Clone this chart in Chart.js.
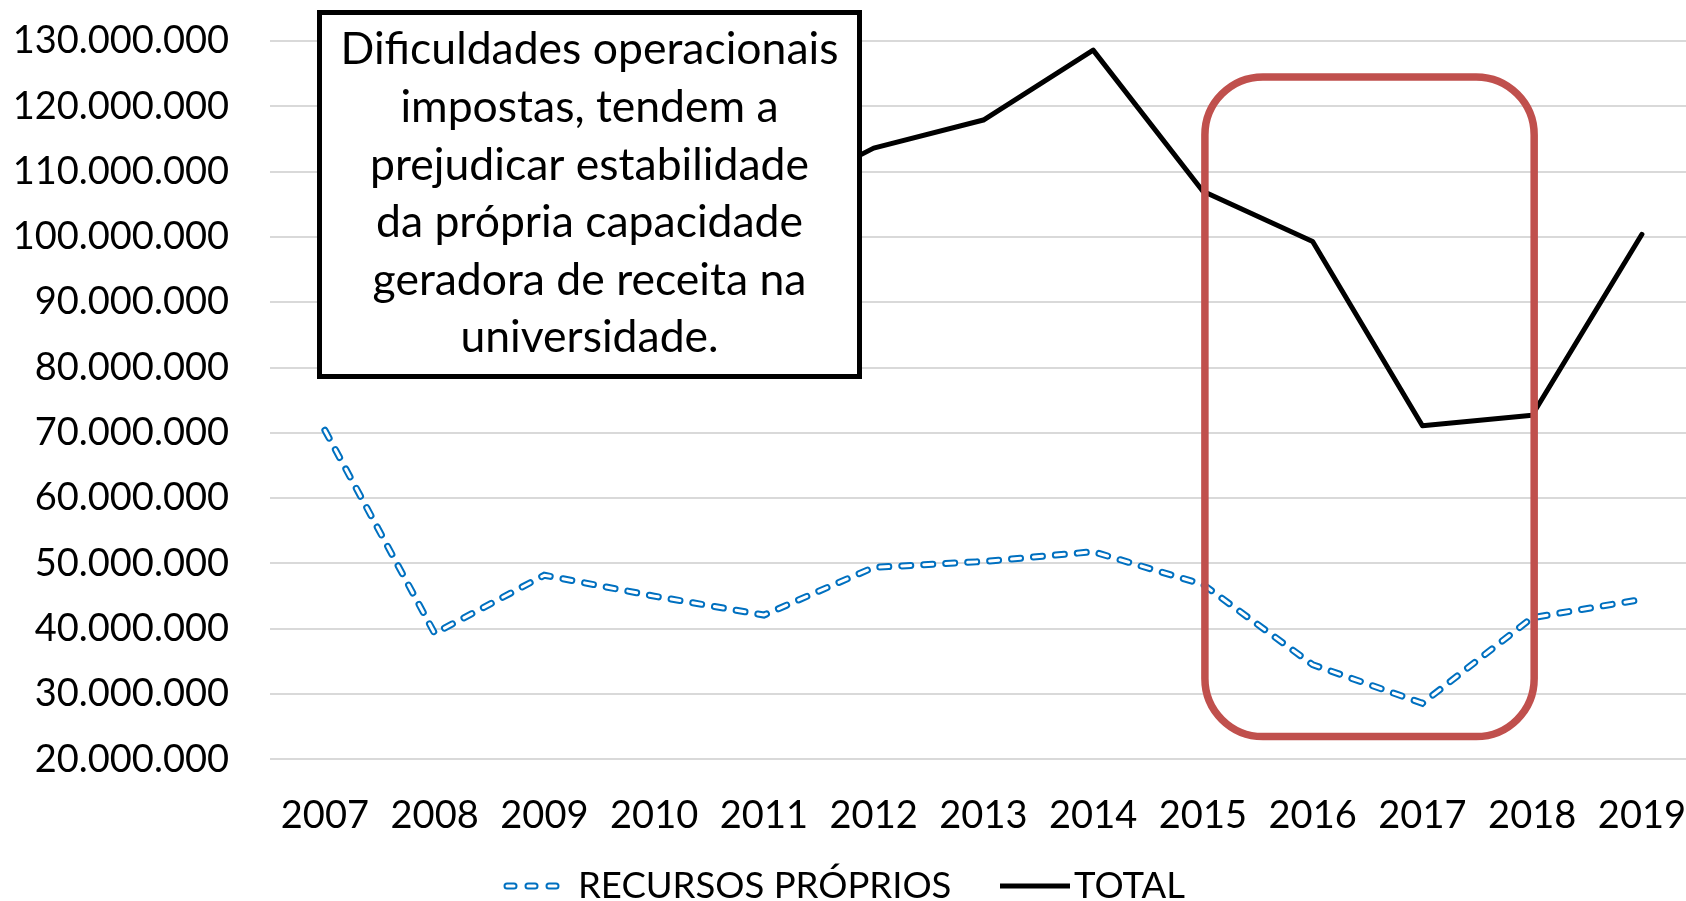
<!DOCTYPE html>
<html>
<head>
<meta charset="utf-8">
<script src="https://cdn.jsdelivr.net/npm/chart.js@4.4.1/dist/chart.umd.min.js"></script>
<style>
  html, body { margin: 0; padding: 0; background: #fff; overflow: hidden; }
  #wrap { position: absolute; left: 0; top: 0; width: 1720px; height: 901px; }
</style>
</head>
<body>
<div id="wrap"><canvas id="grafico" width="1720" height="901"></canvas></div>
<script>
const anos = ['2007', '2008', '2009', '2010', '2011', '2012', '2013', '2014', '2015', '2016', '2017', '2018', '2019'];
const recursosProprios = [70400000, 39300000, 48200000, 45000000, 42100000, 49400000, 50300000, 51800000, 46800000, 34500000, 28600000, 41700000, 44500000];
// 2007-2011 do total ficam escondidos atras da caixa de texto
const total = [100000000, 85000000, 98000000, 96000000, 105000000, 113600000, 117900000, 128600000, 107000000, 99300000, 71100000, 72700000, 100400000];
const eixoY = { min: 20000000, max: 130000000, passo: 10000000 };
const textoCaixa = ['Dificuldades operacionais', 'impostas, tendem a', 'prejudicar estabilidade', 'da própria capacidade', 'geradora de receita na', 'universidade.'];
const destaque = { de: '2015', ate: '2018', topo: 124500000, base: 23500000 };

const fonte = 'Lato, "Open Sans", sans-serif';
const azul = '#0070C0';
const tracoAzul = [9, 13];

function formatar(v) {
    return String(Math.round(v)).replace(/\B(?=(\d{3})+(?!\d))/g, '.');
}

const anotacoes = {
    id: 'anotacoes',
    afterDatasetsDraw(chart) {
        const ctx = chart.ctx;
        const x = chart.scales.x;
        const y = chart.scales.y;

        // retangulo vermelho arredondado
        const x1 = x.getPixelForValue(anos.indexOf(destaque.de)) + 2;
        const x2 = x.getPixelForValue(anos.indexOf(destaque.ate)) + 2;
        const y1 = y.getPixelForValue(destaque.topo);
        const y2 = y.getPixelForValue(destaque.base);
        ctx.save();
        ctx.strokeStyle = '#C0504D';
        ctx.lineWidth = 7.5;
        ctx.beginPath();
        ctx.roundRect(x1, y1, x2 - x1, y2 - y1, 58);
        ctx.stroke();
        ctx.restore();

        // caixa de texto
        ctx.save();
        ctx.fillStyle = '#fff';
        ctx.strokeStyle = '#000';
        ctx.lineWidth = 5;
        ctx.fillRect(319.5, 12.5, 540, 364);
        ctx.strokeRect(319.5, 12.5, 540, 364);
        ctx.fillStyle = '#000';
        ctx.font = '44.5px ' + fonte;
        ctx.textAlign = 'center';
        ctx.textBaseline = 'middle';
        textoCaixa.forEach((linha, i) => {
            ctx.fillText(linha, 589.5, 50 + i * 57.6);
        });
        ctx.restore();
    },
    afterDraw(chart) {
        // legenda
        const ctx = chart.ctx;
        const yL = 886;
        ctx.save();
        ctx.lineCap = 'round';
        ctx.setLineDash([7, 14]);
        ctx.lineDashOffset = -4;
        ctx.strokeStyle = azul;
        ctx.lineWidth = 7;
        ctx.beginPath(); ctx.moveTo(503, yL); ctx.lineTo(560, yL); ctx.stroke();
        ctx.strokeStyle = '#fff';
        ctx.lineWidth = 3;
        ctx.beginPath(); ctx.moveTo(503, yL); ctx.lineTo(560, yL); ctx.stroke();
        ctx.setLineDash([]);
        ctx.lineCap = 'butt';
        ctx.strokeStyle = '#000';
        ctx.lineWidth = 5;
        ctx.beginPath(); ctx.moveTo(1000, yL); ctx.lineTo(1070, yL); ctx.stroke();
        ctx.fillStyle = '#000';
        ctx.font = '36.5px ' + fonte;
        ctx.textAlign = 'left';
        ctx.textBaseline = 'middle';
        ctx.fillText(chart.data.datasets[1].label, 578, yL);
        ctx.fillText(chart.data.datasets[2].label, 1074, yL);
        ctx.restore();
    }
};

new Chart(document.getElementById('grafico'), {
    type: 'line',
    data: {
        labels: anos,
        datasets: [
            {
                label: 'miolo',
                data: recursosProprios,
                borderColor: '#fff',
                borderWidth: 3,
                borderDash: tracoAzul,
                borderCapStyle: 'round',
                pointRadius: 0,
                tension: 0
            },
            {
                label: 'RECURSOS PRÓPRIOS',
                data: recursosProprios,
                borderColor: azul,
                borderWidth: 7,
                borderDash: tracoAzul,
                borderCapStyle: 'round',
                pointRadius: 0,
                tension: 0
            },
            {
                label: 'TOTAL',
                data: total,
                borderColor: '#000',
                borderWidth: 5,
                borderJoinStyle: 'round',
                borderCapStyle: 'round',
                pointRadius: 0,
                tension: 0
            }
        ]
    },
    options: {
        responsive: false,
        animation: false,
        layout: { padding: { top: 41, right: 0, bottom: 28, left: 0 } },
        plugins: {
            legend: { display: false },
            tooltip: { enabled: false }
        },
        scales: {
            x: {
                offset: true,
                grid: { display: false, drawTicks: false },
                border: { display: false },
                ticks: {
                    color: '#000',
                    font: { family: fonte, size: 38 },
                    padding: 34,
                    maxRotation: 0,
                    autoSkip: false
                }
            },
            y: {
                min: eixoY.min,
                max: eixoY.max,
                afterFit(scale) {
                    scale.width = 270;
                    scale.paddingTop = 0;
                    scale.paddingBottom = 0;
                },
                grid: { color: '#d9d9d9', lineWidth: 2, drawTicks: false },
                border: { display: false },
                ticks: {
                    stepSize: eixoY.passo,
                    color: '#000',
                    font: { family: fonte, size: 38 },
                    padding: 41,
                    callback: v => formatar(v)
                }
            }
        }
    },
    plugins: [anotacoes]
});
</script>
</body>
</html>
